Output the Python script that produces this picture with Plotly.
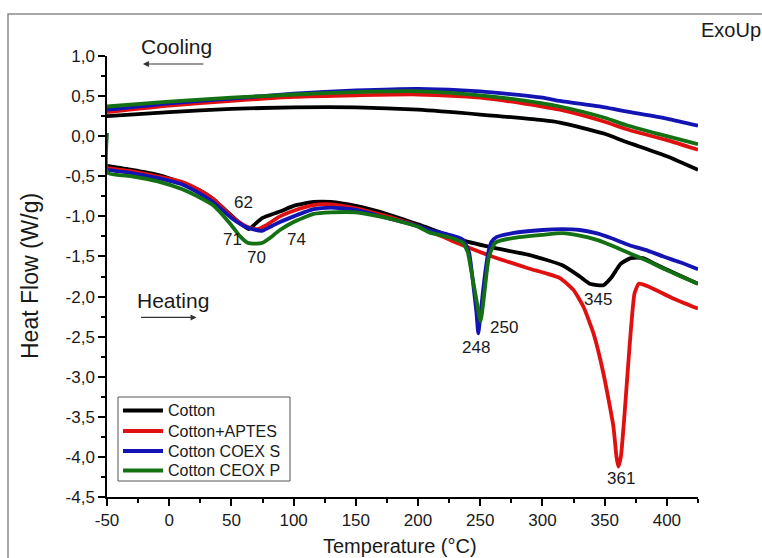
import plotly.graph_objects as go

# ---------------- data ----------------
series_names = ["Cotton", "Cotton+APTES", "Cotton COEX S", "Cotton CEOX P"]
series_colors = ["#000000", "#e01010", "#1414b4", "#137013"]

# Heating runs (lower curves)
cotton_heat_T = [-50, -30, -10, 10, 25, 35, 45, 55, 60, 64, 68, 75, 89, 100, 116, 130, 150, 175, 200,
                 236, 263, 289, 316, 330, 338, 349, 355, 363, 371, 381, 390, 405, 425]
cotton_heat_HF = [-0.37, -0.42, -0.48, -0.58, -0.68, -0.78, -0.92, -1.06, -1.12, -1.16, -1.11, -1.02, -0.94,
                  -0.87, -0.82, -0.82, -0.87, -0.97, -1.10, -1.30, -1.40, -1.48, -1.61, -1.75, -1.84, -1.86,
                  -1.77, -1.59, -1.52, -1.52, -1.59, -1.70, -1.84]

aptes_heat_T = [-50, -30, -10, 10, 25, 36, 50, 60, 66, 71, 78, 89, 100, 116, 130, 150, 175, 200, 215, 231,
                263, 289, 314, 325, 333, 341, 349, 357, 359.5, 361, 363, 366, 370, 374, 377.5, 386, 404.5, 425]
aptes_heat_HF = [-0.40, -0.44, -0.50, -0.57, -0.68, -0.79, -1.00, -1.11, -1.15, -1.16, -1.11, -1.00, -0.93,
                 -0.86, -0.85, -0.90, -1.00, -1.12, -1.22, -1.33, -1.52, -1.65, -1.77, -1.92, -2.13, -2.46,
                 -2.96, -3.62, -4.00, -4.12, -4.00, -3.46, -2.62, -1.96, -1.84, -1.88, -2.02, -2.15]

coex_heat_T = [-50, -30, -10, 10, 25, 36, 50, 60, 67, 74.5, 80, 89, 100, 116, 130, 150, 175, 200, 209, 225,
               236, 241, 243, 245.5, 247, 248.4, 250, 252.3, 254, 256.3, 259, 263, 276, 300, 316, 330, 343,
               355, 370, 385, 397, 410, 425]
coex_heat_HF = [-0.42, -0.46, -0.52, -0.60, -0.72, -0.83, -1.02, -1.12, -1.16, -1.18, -1.14, -1.07, -1.00,
                -0.91, -0.89, -0.92, -1.02, -1.12, -1.17, -1.23, -1.29, -1.45, -1.67, -2.00, -2.21, -2.46,
                -2.25, -1.92, -1.70, -1.46, -1.32, -1.26, -1.21, -1.17, -1.16, -1.17, -1.21, -1.27, -1.36,
                -1.43, -1.50, -1.57, -1.66]

ceox_heat_T = [-50, -49.6, -30, -10, 10, 25, 36, 50, 57, 63, 70, 75, 80, 89, 100, 116, 130, 150, 175, 200,
               209, 225, 236, 240, 243, 247, 250.2, 253, 255, 257, 261, 263, 276, 300, 316, 330, 343, 355,
               370, 385, 397, 410, 425]
ceox_heat_HF = [0.04, -0.455, -0.50, -0.56, -0.66, -0.77, -0.87, -1.11, -1.25, -1.33, -1.34, -1.33, -1.28,
                -1.17, -1.07, -0.97, -0.95, -0.95, -1.02, -1.13, -1.20, -1.26, -1.33, -1.45, -1.70, -2.05,
                -2.31, -2.00, -1.72, -1.50, -1.35, -1.32, -1.27, -1.23, -1.21, -1.24, -1.29, -1.36, -1.46,
                -1.56, -1.65, -1.74, -1.84]

# Cooling runs (upper curves)
cool_T = [-50, 0, 50, 100, 150, 200, 250, 300, 314, 350, 367, 400, 425]
cotton_cool_HF = [0.25, 0.30, 0.34, 0.36, 0.36, 0.33, 0.27, 0.20, 0.17, 0.03, -0.07, -0.25, -0.42]
aptes_cool_HF = [0.30, 0.38, 0.44, 0.49, 0.51, 0.52, 0.48, 0.37, 0.33, 0.18, 0.09, -0.05, -0.17]
coex_cool_HF = [0.33, 0.41, 0.47, 0.53, 0.57, 0.59, 0.56, 0.48, 0.44, 0.36, 0.31, 0.22, 0.13]
ceox_cool_HF = [0.37, 0.43, 0.48, 0.52, 0.55, 0.56, 0.51, 0.41, 0.37, 0.23, 0.14, 0.00, -0.10]

# Peak labels
peak_labels = ["62", "71", "70", "74", "248", "250", "345", "361"]
peak_label_T = [59.5, 50.6, 69.9, 102, 246.5, 269, 344.5, 363]
peak_label_HF = [-0.83, -1.29, -1.51, -1.29, -2.64, -2.38, -2.04, -4.27]

# Tick labels
x_tick_vals = [-50, 0, 50, 100, 150, 200, 250, 300, 350, 400]
x_tick_text = ["-50", "0", "50", "100", "150", "200", "250", "300", "350", "400"]
y_tick_vals = [1.0, 0.5, 0.0, -0.5, -1.0, -1.5, -2.0, -2.5, -3.0, -3.5, -4.0, -4.5]
y_tick_text = ["1,0", "0,5", "0,0", "-0,5", "-1,0", "-1,5", "-2,0", "-2,5", "-3,0", "-3,5", "-4,0", "-4,5"]

# ---------------- figure ----------------
heat_T = [cotton_heat_T, aptes_heat_T, coex_heat_T, ceox_heat_T]
heat_HF = [cotton_heat_HF, aptes_heat_HF, coex_heat_HF, ceox_heat_HF]
cool_HF = [cotton_cool_HF, aptes_cool_HF, coex_cool_HF, ceox_cool_HF]

# plot-area geometry in pixels (for paper-referenced decorations)
PL, PT, PW, PH = 107, 56, 591, 441


def px(xp):
    return (xp - PL) / PW


def py(yp):
    return (PT + PH - yp) / PH


fig = go.Figure()
for i, name in enumerate(series_names):
    fig.add_trace(go.Scatter(
        x=cool_T, y=cool_HF[i], mode="lines", name=name, legendgroup=name, showlegend=False,
        line=dict(color=series_colors[i], width=3.8, shape="spline", smoothing=0.6)))
for i, name in enumerate(series_names):
    fig.add_trace(go.Scatter(
        x=heat_T[i], y=heat_HF[i], mode="lines", name=name, legendgroup=name, showlegend=False,
        line=dict(color=series_colors[i], width=3.8, shape="spline", smoothing=0.5)))

FONT = "Liberation Sans, Arial, sans-serif"
TXT = "#1a1a1a"

for txt, tx, ty in zip(peak_labels, peak_label_T, peak_label_HF):
    fig.add_annotation(x=tx, y=ty, text=txt, showarrow=False,
                       font=dict(family=FONT, size=17, color=TXT))

# Cooling / Heating labels with arrows
fig.add_annotation(xref="paper", yref="paper", x=px(139), y=py(47), text="Cooling",
                   showarrow=False, xanchor="left", yanchor="middle", font=dict(family=FONT, size=21, color=TXT))
fig.add_annotation(x=-21.1, y=0.90, ax=62, ay=0, text="", showarrow=True,
                   arrowhead=2, arrowsize=1, arrowwidth=1.2, arrowcolor="#333333")
fig.add_annotation(x=-27.5, y=-2.05, text="Heating", showarrow=False, xanchor="left",
                   font=dict(family=FONT, size=21, color=TXT))
fig.add_annotation(x=22, y=-2.26, ax=-57, ay=0, text="", showarrow=True,
                   arrowhead=2, arrowsize=1, arrowwidth=1.2, arrowcolor="#333333")

fig.add_annotation(xref="paper", yref="paper", x=px(699), y=py(30), text="ExoUp",
                   showarrow=False, xanchor="left", yanchor="middle",
                   font=dict(family=FONT, size=20, color=TXT))

# axis titles
fig.add_annotation(xref="paper", yref="paper", x=px(400), y=py(546),
                   text="Temperature (°C)", showarrow=False, xanchor="center", yanchor="middle",
                   font=dict(family=FONT, size=20, color=TXT))
fig.add_annotation(xref="paper", yref="paper", x=px(30), y=py(276),
                   text="Heat Flow (W/g)", showarrow=False, textangle=-90, xanchor="center", yanchor="middle",
                   font=dict(family=FONT, size=23, color=TXT))

# outer frame
fig.add_shape(type="rect", xref="paper", yref="paper", x0=px(8), x1=1.3, y0=-0.5, y1=py(14),
              line=dict(color="#8a8a8a", width=1.5), fillcolor="rgba(0,0,0,0)", layer="below")

# legend box (drawn like the reference's boxed key)
legend_rows_y = [410.5, 431, 451, 470.5]
fig.add_shape(type="rect", xref="paper", yref="paper", x0=px(118), x1=px(290), y0=py(481), y1=py(397),
              line=dict(color="#555555", width=1), fillcolor="white", layer="above")
for i, name in enumerate(series_names):
    fig.add_shape(type="line", xref="paper", yref="paper", x0=px(123), x1=px(163),
                  y0=py(legend_rows_y[i]), y1=py(legend_rows_y[i]),
                  line=dict(color=series_colors[i], width=4), layer="above")
    fig.add_annotation(xref="paper", yref="paper", x=px(166), y=py(legend_rows_y[i]), text=name,
                       showarrow=False, xanchor="left", yanchor="middle",
                       font=dict(family=FONT, size=16, color=TXT))

fig.update_layout(
    width=762, height=558,
    margin=dict(l=PL, r=762 - PL - PW, t=PT, b=558 - PT - PH),
    paper_bgcolor="white", plot_bgcolor="white",
    font=dict(family=FONT, color=TXT),
    showlegend=False,
    xaxis=dict(range=[-50, 425], tickvals=x_tick_vals, ticktext=x_tick_text, showgrid=False, zeroline=False,
               showline=True, linecolor="#000000", linewidth=1.5, automargin=False,
               ticks="outside", ticklen=7, tickwidth=1.5, tickcolor="#000000",
               minor=dict(dtick=25, tick0=-50, ticks="outside", ticklen=4, tickwidth=1.5, tickcolor="#000000"),
               tickfont=dict(family=FONT, size=17, color=TXT)),
    yaxis=dict(range=[-4.5, 1.0], tickvals=y_tick_vals, ticktext=y_tick_text, showgrid=False, zeroline=False,
               showline=True, linecolor="#000000", linewidth=1.5, automargin=False,
               ticks="outside", ticklen=7, tickwidth=1.5, tickcolor="#000000",
               minor=dict(dtick=0.25, tick0=0, ticks="outside", ticklen=4, tickwidth=1.5, tickcolor="#000000"),
               tickfont=dict(family=FONT, size=17, color=TXT)),
)

fig.write_html("out.html", config={"displayModeBar": False},
               post_script="document.body.style.margin='0';")
